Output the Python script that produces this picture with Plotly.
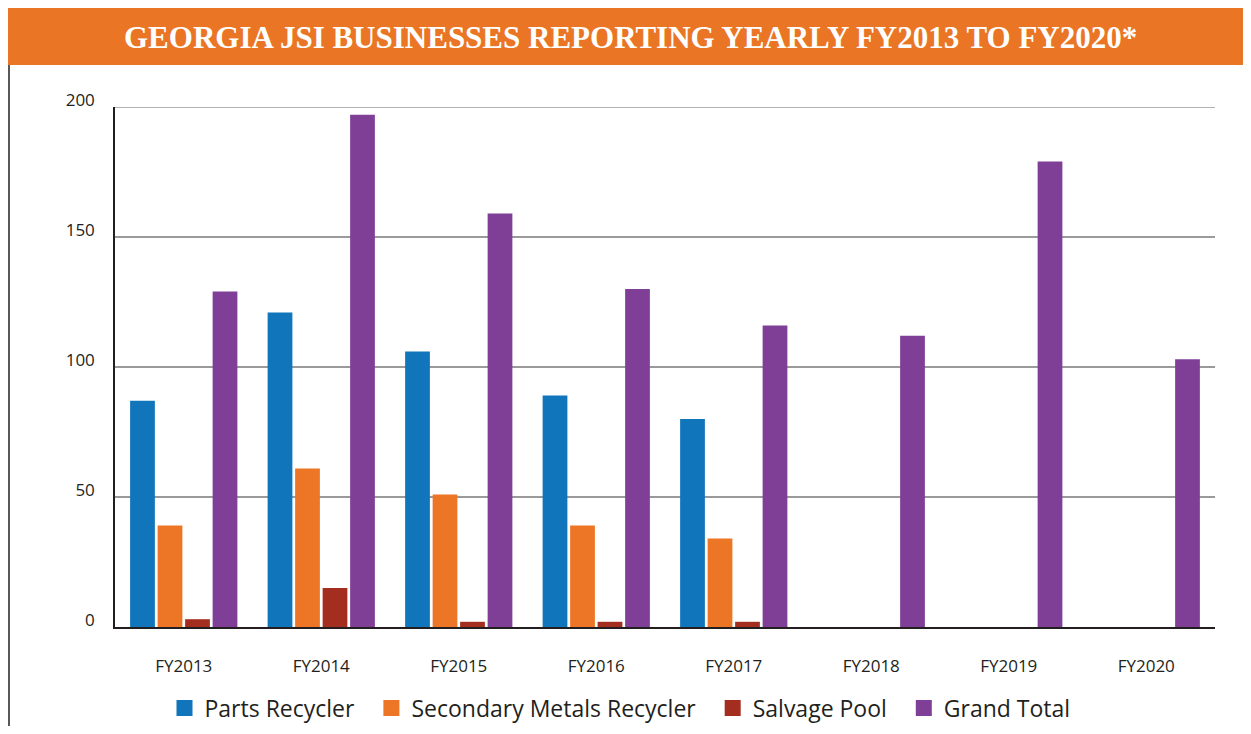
import plotly.graph_objects as go

years = ["FY2013", "FY2014", "FY2015", "FY2016", "FY2017", "FY2018", "FY2019", "FY2020"]
parts_recycler = [87, 121, 106, 89, 80, None, None, None]
secondary_metals = [39, 61, 51, 39, 34, None, None, None]
salvage_pool = [3, 15, 2, 2, 2, None, None, None]
grand_total = [129, 197, 159, 130, 116, 112, 179, 103]
y_ticks = [0, 50, 100, 150, 200]

# the page body adds an 8px margin; keep the figure inside the window
OFF = 8
W, H = 1251 - 2 * OFF, 734 - 2 * OFF
L, R, T, B = 115, 1215, 107, 627  # plot area in page pixels


def px_x(x):
    return (x - L) / (R - L)


def px_y(y):
    return (B - y) / (B - T)


series = [
    ("Parts Recycler", parts_recycler, "#1075BB"),
    ("Secondary Metals Recycler", secondary_metals, "#EC7626"),
    ("Salvage Pool", salvage_pool, "#A32D1F"),
    ("Grand Total", grand_total, "#7F3F97"),
]

fig = go.Figure()
for name, vals, color in series:
    fig.add_trace(go.Bar(x=years, y=vals, name=name, marker_color=color,
                         marker_line_width=0, showlegend=False))
# legend swatches (bigger squares than the default bar legend)
for name, vals, color in series:
    fig.add_trace(go.Scatter(x=[None], y=[None], name=name + "\u00a0\u00a0", mode="markers",
                             marker=dict(symbol="square", size=20, color=color)))

fig.update_layout(
    width=W, height=H,
    margin=dict(l=L - OFF, r=W - (R - OFF), t=T - OFF, b=H - (B - OFF), autoexpand=False),
    paper_bgcolor="white", plot_bgcolor="white",
    barmode="group", bargap=0.2, bargroupgap=0.1,
    font=dict(family="Open Sans, Noto Sans, sans-serif", color="#231F20"),
    legend=dict(orientation="h", x=px_x(626), xanchor="center", y=px_y(708), yanchor="middle",
                font=dict(size=23), itemsizing="trace", traceorder="normal"),
    shapes=[
        dict(type="rect", xref="paper", yref="paper",
             x0=px_x(OFF), x1=px_x(1251), y0=px_y(65), y1=px_y(OFF),
             fillcolor="#EA7525", line_width=0, layer="below"),
        dict(type="line", xref="paper", yref="paper",
             x0=px_x(9), x1=px_x(9), y0=px_y(65), y1=px_y(734),
             line=dict(color="#231F20", width=1.5)),
        dict(type="line", xref="paper", yref="y", x0=0, x1=1, y0=200, y1=200,
             line=dict(color="#9A9A9A", width=1.5), layer="below"),
    ],
    annotations=[
        dict(text="<b>GEORGIA JSI BUSINESSES REPORTING YEARLY FY2013 TO FY2020*</b>",
             xref="paper", yref="paper", x=px_x(630), y=px_y(37),
             xanchor="center", yanchor="middle", showarrow=False,
             font=dict(family="Liberation Serif, DejaVu Serif, serif", size=31, color="white")),
    ],
)

fig.update_xaxes(showline=True, linecolor="#231F20", linewidth=2, ticks="",
                 tickfont=dict(size=17), ticklabelstandoff=23, showgrid=False,
                 automargin=False)
fig.update_yaxes(range=[0, 200], tickvals=y_ticks, showgrid=True, gridcolor="#9A9A9A",
                 gridwidth=1.5, showline=True, linecolor="#231F20", linewidth=1.5,
                 zeroline=False, ticks="", tickfont=dict(size=17),
                 ticklabelstandoff=15, ticklabelshift=-7, automargin=False)

fig.write_html("out.html")
